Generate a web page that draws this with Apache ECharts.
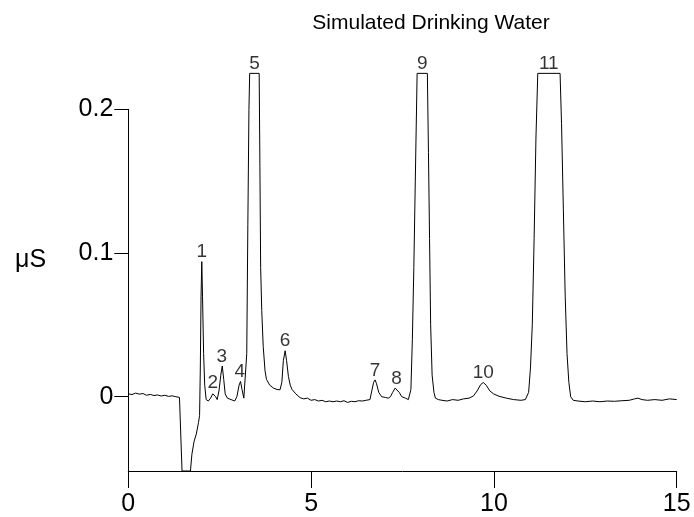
<!DOCTYPE html>
<html>
<head>
<meta charset="utf-8">
<script src="https://cdn.jsdelivr.net/npm/echarts@6/dist/echarts.min.js"></script>
<style>html,body{margin:0;padding:0;background:#fff}#c{width:694px;height:517px}</style>
</head>
<body>
<div id="c"></div>
<script>
// Retention time (min) and conductivity (µS); tops of 5, 9, 11 are off-scale (flat)
const trace = [
[0,0.002],[0.1,0.0015],[0.2,0.0025],[0.3,0.0018],[0.4,0.0022],[0.5,0.001],[0.6,0.0016],[0.7,0.0008],[0.8,0.0012],[0.9,0.0005],[1.0,0.001],[1.1,0.0002],[1.2,0.0006],[1.3,0.0],[1.4,-0.0005],[1.45,-0.001],
[1.47,-0.0517],[1.7,-0.0517],[1.74,-0.04],[1.8,-0.031],[1.86,-0.026],[1.92,-0.018],[1.95,-0.013],
[1.97,0.02],[1.99,0.07],[2.01,0.094],[2.03,0.07],[2.06,0.03],[2.09,0.008],[2.13,-0.002],[2.19,-0.003],[2.25,-0.001],[2.31,0.002],[2.35,0.003],[2.39,0.0],[2.43,-0.002],
[2.48,0.004],[2.53,0.015],[2.57,0.0214],[2.61,0.012],[2.65,0.002],[2.71,-0.001],[2.81,-0.002],[2.91,-0.003],[2.97,0.0],[3.03,0.008],[3.07,0.0106],[3.11,0.005],[3.16,-0.001],[3.21,0.0],
[3.24,0.03],[3.27,0.12],[3.3,0.2],[3.32,0.225],[3.58,0.225],[3.6,0.16],[3.62,0.09],[3.65,0.06],[3.69,0.035],[3.74,0.018],[3.78,0.012],[3.87,0.008],[3.97,0.006],[4.07,0.005],[4.15,0.0048],
[4.2,0.01],[4.24,0.025],[4.29,0.032],[4.33,0.025],[4.38,0.014],[4.43,0.008],[4.48,0.005],[4.58,0.002],[4.7,-0.0007],[4.8,-0.0015],[4.9,-0.001],[5.0,-0.0025],[5.1,-0.002],[5.2,-0.003],[5.3,-0.0025],[5.4,-0.0035],[5.5,-0.003],[5.6,-0.0035],[5.7,-0.003],[5.8,-0.0035],[5.9,-0.0028],[6.0,-0.004],[6.1,-0.0032],[6.2,-0.0035],[6.3,-0.0028],[6.4,-0.003],[6.5,-0.0025],[6.61,-0.002],
[6.66,0.004],[6.71,0.01],[6.75,0.0117],[6.79,0.009],[6.85,0.003],[6.93,0.0],[7.03,-0.0005],[7.11,-0.001],[7.17,0.0],[7.23,0.003],[7.3,0.006],[7.35,0.0062],[7.41,0.003],[7.48,0.0],[7.58,-0.001],[7.66,-0.002],
[7.73,0.005],[7.77,0.04],[7.81,0.09],[7.85,0.15],[7.89,0.21],[7.9,0.225],[8.18,0.225],[8.21,0.17],[8.24,0.11],[8.27,0.05],[8.31,0.015],[8.36,0.003],[8.4,-0.001],
[8.48,-0.002],[8.58,-0.0025],[8.72,-0.003],[8.87,-0.002],[9.02,-0.0025],[9.17,-0.0015],[9.32,-0.001],[9.44,0.0005],[9.54,0.004],[9.64,0.0085],[9.71,0.0099],[9.79,0.008],[9.89,0.004],[9.99,0.002],[10.14,0.0003],[10.34,-0.001],[10.54,-0.002],[10.74,-0.0025],[10.86,-0.002],
[10.95,0.003],[11.0,0.02],[11.05,0.05],[11.1,0.11],[11.15,0.18],[11.2,0.225],[11.81,0.225],[11.85,0.19],[11.9,0.13],[11.95,0.07],[12.0,0.03],[12.05,0.01],[12.1,0.0],[12.17,-0.0025],
[12.3,-0.003],[12.5,-0.0035],[12.7,-0.003],[12.9,-0.0035],[13.1,-0.003],[13.3,-0.0032],[13.5,-0.0028],[13.7,-0.0025],[13.85,-0.0015],[13.94,-0.001],[14.05,-0.002],[14.2,-0.0025],[14.4,-0.002],[14.6,-0.0025],[14.8,-0.0015],[15.0,-0.002]
];
const peakNames = ['1','2','3','4','5','6','7','8','9','10','11'];
const peakTimes = [2.01, 2.31, 2.56, 3.05, 3.45, 4.29, 6.75, 7.34, 8.04, 9.71, 11.5];
const peakHeights = [0.094, 0.003, 0.0214, 0.0106, 0.225, 0.032, 0.0117, 0.0062, 0.225, 0.0099, 0.225];
const xTicks = [0, 5, 10, 15];
const yTicks = [0, 0.1, 0.2];

const chart = echarts.init(document.getElementById('c'));
const font = 'Liberation Sans, Arial, sans-serif';
chart.setOption({
  animation: false,
  title: [
    {text: 'Simulated Drinking Water', left: 426, top: 8, textAlign: 'center',
     textStyle: {fontFamily: font, fontSize: 21, fontWeight: 'normal', color: '#000'}},
    {text: 'μS', left: 10, top: 243,
     textStyle: {fontFamily: font, fontSize: 25, fontWeight: 'normal', color: '#000'}}
  ],
  grid: {left: 128.3, right: 17.3, top: 109.3, bottom: 46},
  xAxis: {
    type: 'value', min: 0, max: 15, interval: 5,
    axisLine: {onZero: false, lineStyle: {color: '#000', width: 1}},
    axisTick: {inside: false, length: 17, lineStyle: {color: '#000'}},
    axisLabel: {fontFamily: font, fontSize: 25, color: '#000', margin: 21,
      formatter: v => xTicks.includes(v) ? String(v) : ''},
    splitLine: {show: false}
  },
  yAxis: {
    type: 'value', min: -0.0517, max: 0.2,
    axisLine: {show: true, lineStyle: {color: '#000', width: 1}},
    axisTick: {show: true, length: 14, customValues: yTicks, lineStyle: {color: '#000'}},
    axisLabel: {fontFamily: font, fontSize: 25, color: '#000', margin: 15, customValues: yTicks,
      formatter: v => String(Math.round(v * 10) / 10)},
    splitLine: {show: false}
  },
  series: [
    {type: 'line', data: trace, showSymbol: false, clip: false, smooth: false,
     lineStyle: {color: '#000', width: 1}},
    {type: 'scatter', symbolSize: 0, clip: false,
     data: peakTimes.map((t, i) => ({value: [t, peakHeights[i]], name: peakNames[i]})),
     label: {show: true, position: 'top', distance: 0, formatter: p => p.name,
       fontFamily: font, fontSize: 19, color: '#000'}}
  ]
});
</script>
</body>
</html>
